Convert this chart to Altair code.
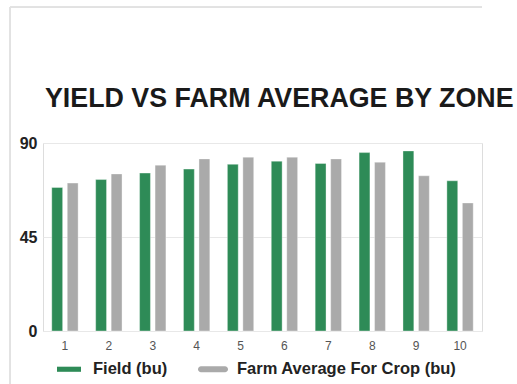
import altair as alt
import pandas as pd

# Yield per zone: field vs farm average for the crop (bushels)
zones = ["1", "2", "3", "4", "5", "6", "7", "8", "9", "10"]
field_bu = [68.7, 72.5, 75.6, 77.5, 79.8, 81.3, 80.2, 85.4, 86.2, 71.9]
farm_avg_bu = [70.8, 75.2, 79.4, 82.4, 83.2, 83.2, 82.4, 80.8, 74.3, 61.3]
series_names = ["Field (bu)", "Farm Average For Crop (bu)"]
series_colors = ["#2e8b57", "#aaaaaa"]
y_ticks = [0, 45, 90]

rows = []
for z, f, a in zip(zones, field_bu, farm_avg_bu):
    rows.append({"zone": z, "series": series_names[0], "value": f})
    rows.append({"zone": z, "series": series_names[1], "value": a})
df = pd.DataFrame(rows)

# legend glyphs: flat bar for the field, rounded pill for the farm average
field_glyph = "M-0.8,-0.17H0.8V0.17H-0.8Z"
farm_glyph = "M-0.8,-0.2H0.8A0.2,0.2 0 0 1 0.8,0.2H-0.8A0.2,0.2 0 0 1 -0.8,-0.2Z"

legend = alt.Legend(
    title=None, orient="none", direction="horizontal",
    legendX=11, legendY=211,
    symbolSize=900, symbolStrokeWidth=0,
    labelFontSize=16.5, labelFontWeight="bold", labelColor="#222222",
    labelFont="Liberation Sans", labelOffset=9, columnPadding=30,
    labelLimit=400,
)
color_enc = alt.Color(
    "series:N",
    sort=series_names,
    scale=alt.Scale(domain=series_names, range=series_colors),
    legend=legend,
)

bars = alt.Chart(df).mark_bar(
    stroke="white", strokeOpacity=0.35, strokeWidth=1
).encode(
    x=alt.X(
        "zone:N",
        sort=zones,
        scale=alt.Scale(paddingInner=0.4, paddingOuter=0.2),
        axis=alt.Axis(
            title=None, labelAngle=0, ticks=False, domain=False,
            labelFontSize=12, labelColor="#555555", labelPadding=9,
            labelFont="Liberation Sans",
        ),
    ),
    xOffset=alt.XOffset("series:N", sort=series_names,
                        scale=alt.Scale(paddingInner=0.3)),
    y=alt.Y(
        "value:Q",
        scale=alt.Scale(domain=[0, 90], nice=False),
        axis=alt.Axis(
            title=None, values=y_ticks, ticks=False, domain=False,
            labelFontSize=16, labelFontWeight="bold", labelColor="#222222",
            labelPadding=6, gridColor="#e8e8e8", labelFont="Liberation Sans",
        ),
    ),
    color=color_enc,
)

# empty point layer that only carries the glyph shapes into the legend
glyphs = alt.Chart(df).mark_point(filled=True, opacity=1).encode(
    color=color_enc,
    shape=alt.Shape(
        "series:N",
        sort=series_names,
        scale=alt.Scale(domain=series_names, range=[field_glyph, farm_glyph]),
        legend=legend,
    ),
).transform_filter("false")

# light card border along the top and left edges
frame_top = alt.Chart(df).mark_rule(color="#e2e2e2", strokeWidth=1).encode(
    x=alt.value(-33), x2=alt.value(439), y=alt.value(-136)
)
frame_left = alt.Chart(df).mark_rule(color="#e2e2e2", strokeWidth=1).encode(
    x=alt.value(-33), y=alt.value(-136), y2=alt.value(241)
)

# the title sits inside the card, below its top border, so its offset
# is measured back down from the border line
chart = alt.layer(frame_top, frame_left, bars, glyphs).properties(
    width=439,
    height=188,
    padding={"left": 43, "top": 143, "right": 35, "bottom": 53},
    autosize=alt.AutoSizeParams(type="none"),
    title=alt.TitleParams(
        "YIELD VS FARM AVERAGE BY ZONE",
        anchor="start", frame="group", dx=2, offset=-127, baseline="alphabetic",
        fontSize=26.8, fontWeight="bold", color="#1a1a1a",
        font="Liberation Sans",
    ),
).configure_view(stroke=None).configure(background="white")

chart.save("out.html", embed_options={"renderer": "svg", "actions": False})
